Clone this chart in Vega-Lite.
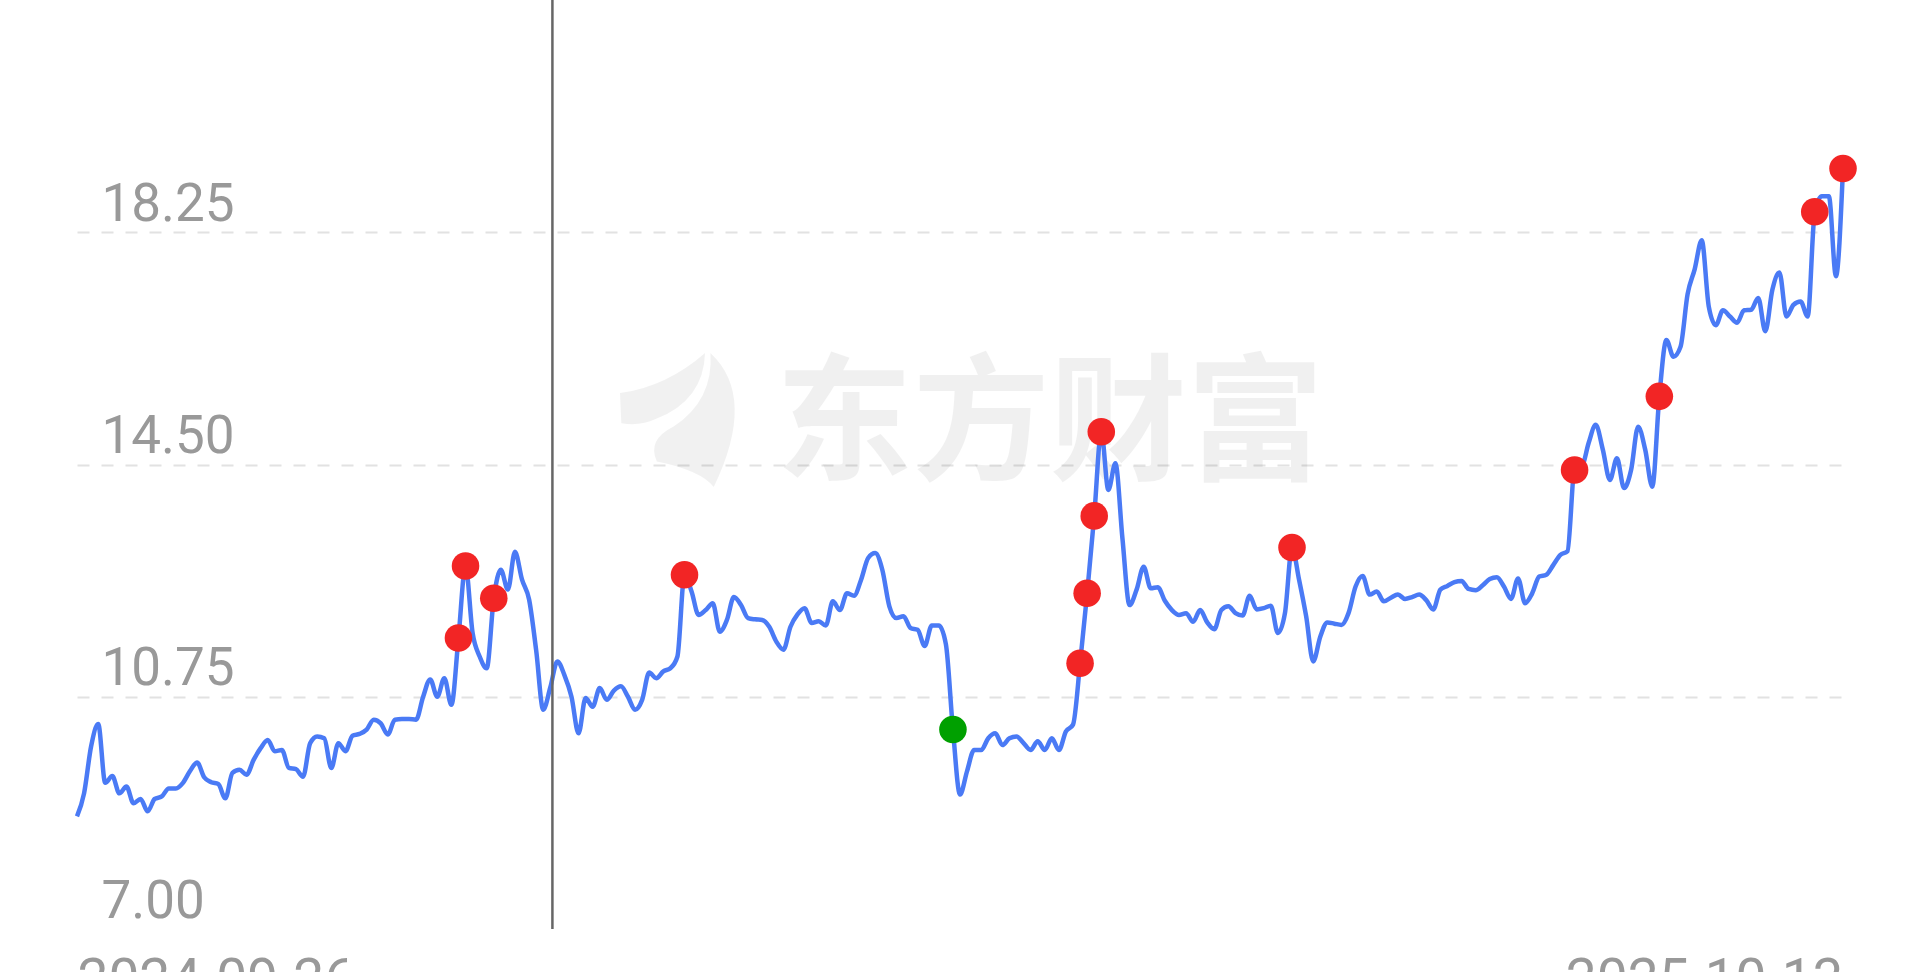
{
  "$schema": "https://vega.github.io/schema/vega-lite/v6.json",
  "width": 1766,
  "height": 929,
  "autosize": {"type": "none"},
  "padding": {"left": 77, "top": 0, "right": 77, "bottom": 43},
  "background": "white",
  "config": {"view": {"stroke": null}, "font": "Roboto"},
  "datasets": {
    "prices": [
      {"i":0,"p":8.82},{"i":1,"p":9.19},{"i":2,"p":9.95},{"i":3,"p":10.31},{"i":4,"p":9.36},{"i":5,"p":9.47},{"i":6,"p":9.19},{"i":7,"p":9.30},{"i":8,"p":9.03},{"i":9,"p":9.10},
      {"i":10,"p":8.90},{"i":11,"p":9.10},{"i":12,"p":9.14},{"i":13,"p":9.27},{"i":14,"p":9.27},{"i":15,"p":9.36},{"i":16,"p":9.55},{"i":17,"p":9.69},{"i":18,"p":9.45},{"i":19,"p":9.37},
      {"i":20,"p":9.34},{"i":21,"p":9.11},{"i":22,"p":9.52},{"i":23,"p":9.57},{"i":24,"p":9.49},{"i":25,"p":9.73},{"i":26,"p":9.92},{"i":27,"p":10.05},{"i":28,"p":9.87},{"i":29,"p":9.89},
      {"i":30,"p":9.60},{"i":31,"p":9.58},{"i":32,"p":9.46},{"i":33,"p":10.00},{"i":34,"p":10.11},{"i":35,"p":10.08},{"i":36,"p":9.60},{"i":37,"p":10.00},{"i":38,"p":9.87},{"i":39,"p":10.12},
      {"i":40,"p":10.15},{"i":41,"p":10.22},{"i":42,"p":10.38},{"i":43,"p":10.32},{"i":44,"p":10.14},{"i":45,"p":10.38},{"i":46,"p":10.39},{"i":47,"p":10.39},{"i":48,"p":10.38},{"i":49,"p":10.75},
      {"i":50,"p":11.03},{"i":51,"p":10.75},{"i":52,"p":11.05},{"i":53,"p":10.62},{"i":54,"p":11.70,"sig":"buy"},{"i":55,"p":12.86,"sig":"buy"},{"i":56,"p":11.78},{"i":57,"p":11.40},{"i":58,"p":11.21},{"i":59,"p":12.34,"sig":"buy"},
      {"i":60,"p":12.80},{"i":61,"p":12.48},{"i":62,"p":13.09},{"i":63,"p":12.64},{"i":64,"p":12.32},{"i":65,"p":11.50},{"i":66,"p":10.54},{"i":67,"p":10.90},{"i":68,"p":11.32},{"i":69,"p":11.10},
      {"i":70,"p":10.75},{"i":71,"p":10.16},{"i":72,"p":10.73},{"i":73,"p":10.59},{"i":74,"p":10.89},{"i":75,"p":10.70},{"i":76,"p":10.85},{"i":77,"p":10.92},{"i":78,"p":10.75},{"i":79,"p":10.54},
      {"i":80,"p":10.70},{"i":81,"p":11.14},{"i":82,"p":11.05},{"i":83,"p":11.16},{"i":84,"p":11.21},{"i":85,"p":11.40},{"i":86,"p":12.72,"sig":"buy"},{"i":87,"p":12.45},{"i":88,"p":12.07},{"i":89,"p":12.15},
      {"i":90,"p":12.26},{"i":91,"p":11.80},{"i":92,"p":11.99},{"i":93,"p":12.36},{"i":94,"p":12.23},{"i":95,"p":12.02},{"i":96,"p":12.00},{"i":97,"p":11.99},{"i":98,"p":11.88},{"i":99,"p":11.64},
      {"i":100,"p":11.51},{"i":101,"p":11.88},{"i":102,"p":12.08},{"i":103,"p":12.18},{"i":104,"p":11.94},{"i":105,"p":11.97},{"i":106,"p":11.90},{"i":107,"p":12.29},{"i":108,"p":12.15},{"i":109,"p":12.42},
      {"i":110,"p":12.38},{"i":111,"p":12.64},{"i":112,"p":12.99},{"i":113,"p":13.07},{"i":114,"p":12.80},{"i":115,"p":12.21},{"i":116,"p":12.02},{"i":117,"p":12.05},{"i":118,"p":11.86},{"i":119,"p":11.83},
      {"i":120,"p":11.57},{"i":121,"p":11.90},{"i":122,"p":11.90},{"i":123,"p":11.60},{"i":124,"p":10.22,"sig":"sell"},{"i":125,"p":9.17},{"i":126,"p":9.55},{"i":127,"p":9.89},{"i":128,"p":9.89},{"i":129,"p":10.08},
      {"i":130,"p":10.16},{"i":131,"p":9.97},{"i":132,"p":10.08},{"i":133,"p":10.11},{"i":134,"p":10.00},{"i":135,"p":9.89},{"i":136,"p":10.03},{"i":137,"p":9.89},{"i":138,"p":10.08},{"i":139,"p":9.89},
      {"i":140,"p":10.19},{"i":141,"p":10.30},{"i":142,"p":11.29,"sig":"buy"},{"i":143,"p":12.42,"sig":"buy"},{"i":144,"p":13.67,"sig":"buy"},{"i":145,"p":15.03,"sig":"buy"},{"i":146,"p":14.09},{"i":147,"p":14.52},{"i":148,"p":13.30},{"i":149,"p":12.23},
      {"i":150,"p":12.48},{"i":151,"p":12.85},{"i":152,"p":12.50},{"i":153,"p":12.52},{"i":154,"p":12.30},{"i":155,"p":12.15},{"i":156,"p":12.07},{"i":157,"p":12.10},{"i":158,"p":11.96},{"i":159,"p":12.15},
      {"i":160,"p":11.95},{"i":161,"p":11.84},{"i":162,"p":12.15},{"i":163,"p":12.21},{"i":164,"p":12.10},{"i":165,"p":12.06},{"i":166,"p":12.38},{"i":167,"p":12.16},{"i":168,"p":12.18},{"i":169,"p":12.22},
      {"i":170,"p":11.78},{"i":171,"p":12.10},{"i":172,"p":13.16,"sig":"buy"},{"i":173,"p":12.64},{"i":174,"p":12.05},{"i":175,"p":11.32},{"i":176,"p":11.72},{"i":177,"p":11.95},{"i":178,"p":11.93},{"i":179,"p":11.91},
      {"i":180,"p":12.10},{"i":181,"p":12.53},{"i":182,"p":12.70},{"i":183,"p":12.40},{"i":184,"p":12.45},{"i":185,"p":12.29},{"i":186,"p":12.35},{"i":187,"p":12.40},{"i":188,"p":12.33},{"i":189,"p":12.36},
      {"i":190,"p":12.40},{"i":191,"p":12.31},{"i":192,"p":12.16},{"i":193,"p":12.48},{"i":194,"p":12.54},{"i":195,"p":12.60},{"i":196,"p":12.62},{"i":197,"p":12.49},{"i":198,"p":12.47},{"i":199,"p":12.55},
      {"i":200,"p":12.65},{"i":201,"p":12.68},{"i":202,"p":12.53},{"i":203,"p":12.33},{"i":204,"p":12.66},{"i":205,"p":12.26},{"i":206,"p":12.42},{"i":207,"p":12.69},{"i":208,"p":12.72},{"i":209,"p":12.88},
      {"i":210,"p":13.04},{"i":211,"p":13.10},{"i":212,"p":14.41,"sig":"buy"},{"i":213,"p":14.45},{"i":214,"p":14.85},{"i":215,"p":15.14},{"i":216,"p":14.74},{"i":217,"p":14.25},{"i":218,"p":14.60},{"i":219,"p":14.12},
      {"i":220,"p":14.41},{"i":221,"p":15.11},{"i":222,"p":14.74},{"i":223,"p":14.14},{"i":224,"p":15.60,"sig":"buy"},{"i":225,"p":16.51},{"i":226,"p":16.24},{"i":227,"p":16.40},{"i":228,"p":17.25},{"i":229,"p":17.65},
      {"i":230,"p":18.12},{"i":231,"p":17.05},{"i":232,"p":16.75},{"i":233,"p":16.99},{"i":234,"p":16.89},{"i":235,"p":16.79},{"i":236,"p":16.99},{"i":237,"p":17.00},{"i":238,"p":17.19},{"i":239,"p":16.65},
      {"i":240,"p":17.32},{"i":241,"p":17.60},{"i":242,"p":16.89},{"i":243,"p":17.08},{"i":244,"p":17.13},{"i":245,"p":16.89},{"i":246,"p":18.58,"sig":"buy"},{"i":247,"p":18.83},{"i":248,"p":18.83},{"i":249,"p":17.54},
      {"i":250,"p":19.28,"sig":"buy"}
    ],
    "cross": [{"i": 67.3}],
    "brand": [{"i": 137.7, "p": 15.07, "t": "东方财富"}],
    "logo": [{"i": 85.4, "p": 15.22, "part": "a"}, {"i": 85.4, "p": 15.22, "part": "b"}]
  },
  "layer": [
    {
      "data": {"name": "logo"},
      "mark": {"type": "point", "filled": true, "size": 17956, "color": "#000000", "opacity": 0.055, "strokeWidth": 0},
      "encoding": {
        "x": {"field": "i", "type": "quantitative", "title": null, "scale": {"domain": [0, 250], "nice": false, "zero": false}},
        "y": {"field": "p", "type": "quantitative", "title": null, "scale": {"domain": [7, 22], "nice": false, "zero": false}},
        "shape": {"field": "part", "type": "nominal", "legend": null, "scale": {"domain": ["a", "b"], "range": ["M-0.88,0.05 L-0.9,-0.4 Q-0.2,-0.5 0.37,-1 Q0.35,-0.3 -0.35,-0.02 Q-0.6,0.1 -0.88,0.05 Z", "M0.45,-1 Q1.15,-0.35 0.5,1 Q0.3,0.75 -0.35,0.62 Q-0.5,0.3 -0.1,0.1 Q0.5,-0.3 0.45,-1 Z"]}}
      }
    },
    {
      "data": {"name": "brand"},
      "mark": {"type": "text", "font": "Noto Sans CJK SC", "fontWeight": "bold", "fontSize": 137, "color": "#000000", "opacity": 0.055, "align": "center", "baseline": "middle"},
      "encoding": {
        "x": {"field": "i", "type": "quantitative", "title": null},
        "y": {"field": "p", "type": "quantitative", "title": null},
        "text": {"field": "t"}
      }
    },
    {
      "data": {"name": "prices"},
      "mark": {"type": "line", "interpolate": "monotone", "color": "#4a7af5", "strokeWidth": 4.5},
      "encoding": {
        "x": {
          "field": "i", "type": "quantitative", "title": null,
          "scale": {"domain": [0, 250], "nice": false, "zero": false},
          "axis": {
            "values": [0, 250],
            "labelExpr": "datum.value == 0 ? '2024-09-26' : '2025-10-13'",
            "labelFlush": true, "domain": false, "ticks": false, "grid": false,
            "labelPadding": 25, "labelFontSize": 55, "labelColor": "#999999",
            "labelFont": "Roboto", "labelBaseline": "top", "labelOverlap": false,
            "labelLimit": 0
          }
        },
        "y": {
          "field": "p", "type": "quantitative", "title": null,
          "scale": {"domain": [7, 22], "nice": false, "zero": false},
          "axis": {
            "values": [7, 10.75, 14.5, 18.25], "format": ".2f",
            "domain": false, "ticks": false,
            "labelAlign": "left", "labelBaseline": "alphabetic",
            "labelPadding": -24, "labelOffset": -12,
            "labelFontSize": 53, "labelColor": "#999999", "labelFont": "Roboto",
            "labelOverlap": false, "labelBound": false, "labelLimit": 0,
            "grid": true, "gridDash": [12, 12], "gridWidth": 2,
            "gridColor": {"condition": {"test": "datum.value == 7", "value": "rgba(0,0,0,0)"}, "value": "#e2e2e2"}
          }
        }
      }
    },
    {
      "data": {"name": "cross"},
      "mark": {"type": "rule", "color": "#666666", "strokeWidth": 2.5},
      "encoding": {
        "x": {"field": "i", "type": "quantitative", "title": null}
      }
    },
    {
      "data": {"name": "prices"},
      "transform": [{"filter": {"field": "sig", "oneOf": ["buy", "sell"]}}],
      "mark": {"type": "point", "filled": true, "size": 760, "opacity": 1, "strokeWidth": 0},
      "encoding": {
        "x": {"field": "i", "type": "quantitative", "title": null},
        "y": {"field": "p", "type": "quantitative", "title": null},
        "color": {"field": "sig", "type": "nominal", "legend": null, "scale": {"domain": ["buy", "sell"], "range": ["#f22525", "#00a000"]}}
      }
    }
  ]
}
